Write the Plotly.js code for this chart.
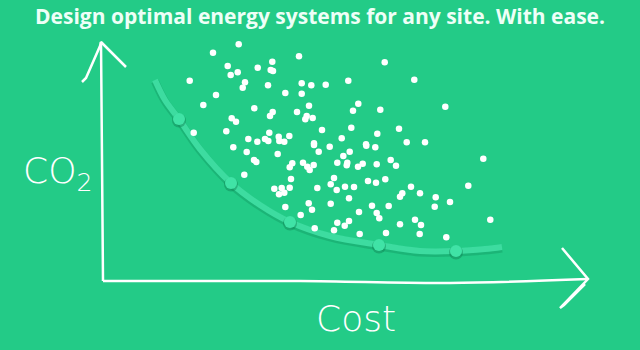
<!DOCTYPE html>
<html><head><meta charset="utf-8">
<script src="https://cdn.plot.ly/plotly-3.0.1.min.js"></script>
<style>html,body{margin:0;padding:0;background:#23cb87;}#chart{width:640px;height:350px;}</style>
</head><body><div id="chart"></div>
<script>
// Scattered candidate designs (pixel-space: cost to the right, CO2 downward-decreasing)
const dotX = [238.7,213,299,272.3,227.7,257.7,270.7,273,237.7,230.7,189.7,245,242.7,268,301.7,311.3,325.7,285.3,301.7,216,203.3,309,254.3,297,272.7,270,306.7,305.3,312.7,231.7,236,226.3,193.7,322,269.3,248.3,257.3,265,268.3,278.7,279.3,289.3,284.3,314,
 384.7,348.3,414.3,358.3,353,380.3,445.3,351.3,377.3,399,341.7,406.7,425,366,
 233.3,314,329.7,246.7,277.7,318.7,254,256.3,292.3,289.7,303,307.3,309.7,313.7,337.3,244.3,291,334,274.3,281.7,289.7,279,284.3,317.3,330.7,336.7,308.7,312,330.7,285.3,300.7,337.3,314.7,334,
 366.3,375.3,349.7,343.3,390.7,396,376.7,362.7,358,347.3,346.7,483.3,368,376,385.3,345,354,411,468.3,420,402.3,400,349,435.7,450,372,388.7,434.7,359,376.7,379.3,415,421,400,490.3,349,344.7,359.7,386,419.7,446.3];
const dotY = [44.3,52.7,56.3,61.7,66,67.7,70,71,72.3,75,80.7,82.3,87.7,85.3,83.3,85.3,84.7,93,93.7,95,105,105.7,108.3,112,112,116,116,119.3,118,118.3,121.7,131.3,132.7,130,132.7,139,141.7,139,141,136.7,141,136,141.7,143.3,
 62.3,80.7,79.7,103.7,110.7,109.7,106.7,127.7,133.7,128.7,138.3,142.3,142.3,144.3,
 147.3,145,146.7,152,154,151.7,160,162,163.3,167.3,162.7,166.7,170,165,162.7,174.7,179,178,188.7,188,187.7,194.3,192.7,188,184.3,190,203.3,209.7,203.7,207,215,222.7,228.3,230.3,
 145.7,147.3,151.7,156,160,165.7,164.3,163.7,166.7,162.7,165.3,158.7,181,182.7,179.3,186.7,187,186.7,185.7,193.3,193.3,196.7,198.3,197.3,202,205.7,206,206.7,212,213,218.3,219.7,225,224.3,219.7,221,225.7,234,233,234,237.3];

// Optimal (Pareto) front
const frontX = [155,165,179,200,231,260,290,330,379,420,456,485,502];
const frontY = [80,100,119,149,183,205,222,236,245,251,251,249,247];
const optX = [179,231,290,379,456];
const optY = [119,183,222,245,251];

// Hand-drawn axes
const yAxisX = [101,102,103];
const yAxisY = [42,160,281];
const yHeadX = [82,86,100,101,126];
const yHeadY = [82,78,46,42,67];
const xAxisX = [103,300,450,588];
const xAxisY = [281,281,283,279];
const xHeadX = [562,588,560,564,585];
const xHeadY = [248,279,308,305,284];

const titleText = "Design optimal energy systems for any site. With ease.";
const yLabel = "CO<sub>2</sub>";
const xLabel = "Cost";

const bg = "#23cb87";
const traces = [
  {x:frontX,y:frontY.map(v=>v+1.5),mode:"lines",line:{shape:"spline",width:8,color:"rgba(15,140,88,0.35)"},hoverinfo:"skip"},
  {x:frontX,y:frontY,mode:"lines",line:{shape:"spline",width:6,color:"#3ddca0"},hoverinfo:"skip"},
  {x:optX,y:optY.map(v=>v+1.5),mode:"markers",marker:{size:14,color:"rgba(15,130,85,0.45)"},hoverinfo:"skip"},
  {x:optX,y:optY,mode:"markers",marker:{size:12,color:"#40e3a6"},hoverinfo:"skip"},
  {x:dotX,y:dotY,mode:"markers",marker:{size:6.5,color:"#ffffff"},hoverinfo:"skip"},
  {x:yAxisX,y:yAxisY,mode:"lines",line:{width:2.5,color:"#ffffff",shape:"spline"},hoverinfo:"skip"},
  {x:yHeadX,y:yHeadY,mode:"lines",line:{width:2.5,color:"#ffffff"},hoverinfo:"skip"},
  {x:xAxisX,y:xAxisY,mode:"lines",line:{width:2.5,color:"#ffffff",shape:"spline"},hoverinfo:"skip"},
  {x:xHeadX,y:xHeadY,mode:"lines",line:{width:2.5,color:"#ffffff"},hoverinfo:"skip"}
];
const layout = {
  width:640,height:350,margin:{l:0,r:0,t:0,b:0},
  paper_bgcolor:bg,plot_bgcolor:bg,showlegend:false,
  title:{text:"<b>"+titleText+"</b>",x:0.5,xanchor:"center",y:1-17/350,yref:"container",yanchor:"middle",
    font:{family:"Open Sans",size:21,color:"#eefff7"}},
  xaxis:{range:[0,640],visible:false,fixedrange:true},
  yaxis:{range:[350,0],visible:false,fixedrange:true},
  annotations:[
    {x:58,y:173,xref:"x",yref:"y",text:yLabel,showarrow:false,font:{family:"DejaVu Sans",size:36,color:"#ffffff",weight:300}},
    {x:356,y:318,xref:"x",yref:"y",text:xLabel,showarrow:false,font:{family:"DejaVu Sans",size:36,color:"#ffffff",weight:300}}
  ]
};
Plotly.newPlot("chart",traces,layout,{staticPlot:true,displayModeBar:false});
</script></body></html>
